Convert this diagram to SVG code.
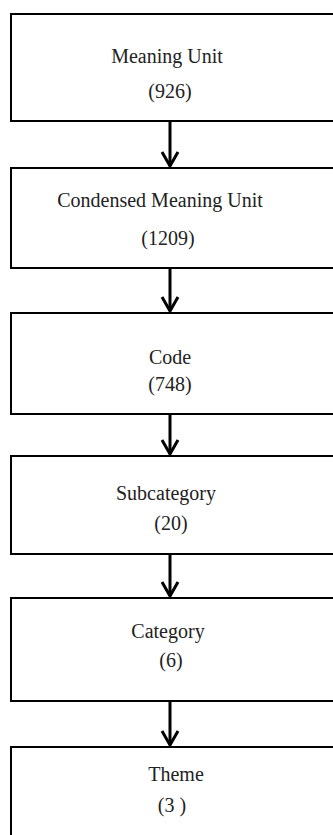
<svg xmlns="http://www.w3.org/2000/svg" width="333" height="835" viewBox="0 0 333 835">
<style>
.box{fill:#fff;stroke:#000;stroke-width:2}
.t{font-family:"Liberation Serif","DejaVu Serif",serif;font-size:20px;fill:#222;text-anchor:middle}
.c{stroke:#000;stroke-width:3;fill:none}
</style>
<defs>
<marker id="ah" markerUnits="userSpaceOnUse" viewBox="-17 -10 19 20" refX="0" refY="0" markerWidth="19" markerHeight="20" orient="auto">
<path d="M-14,-8 L0,0 L-14,8" fill="none" stroke="#000" stroke-width="3"/>
</marker>
</defs>
<rect width="333" height="835" fill="#fff"/>
<g id="connectors">
<line class="c" x1="170" y1="121" x2="170" y2="166" marker-end="url(#ah)"/>
<line class="c" x1="170" y1="268" x2="170" y2="311" marker-end="url(#ah)"/>
<line class="c" x1="170" y1="414" x2="170" y2="454" marker-end="url(#ah)"/>
<line class="c" x1="170" y1="554" x2="170" y2="596" marker-end="url(#ah)"/>
<line class="c" x1="170" y1="701" x2="170" y2="745" marker-end="url(#ah)"/>
</g>
<g id="meaning-unit">
<rect class="box" x="11" y="14" width="340" height="107"/>
<text class="t" x="167" y="63">Meaning Unit</text>
<text class="t" x="170" y="98">(926)</text>
</g>
<g id="condensed-meaning-unit">
<rect class="box" x="11" y="168" width="340" height="100"/>
<text class="t" x="160" y="207">Condensed Meaning Unit</text>
<text class="t" x="168" y="245">(1209)</text>
</g>
<g id="code">
<rect class="box" x="11" y="313" width="340" height="101"/>
<text class="t" x="170" y="364">Code</text>
<text class="t" x="170" y="391">(748)</text>
</g>
<g id="subcategory">
<rect class="box" x="11" y="456" width="340" height="98"/>
<text class="t" x="166" y="500">Subcategory</text>
<text class="t" x="171" y="530">(20)</text>
</g>
<g id="category">
<rect class="box" x="11" y="598" width="340" height="103"/>
<text class="t" x="168" y="638">Category</text>
<text class="t" x="171" y="667">(6)</text>
</g>
<g id="theme">
<rect class="box" x="11" y="747" width="340" height="100"/>
<text class="t" x="176" y="781">Theme</text>
<text class="t" x="172" y="812">(3 )</text>
</g>
</svg>
